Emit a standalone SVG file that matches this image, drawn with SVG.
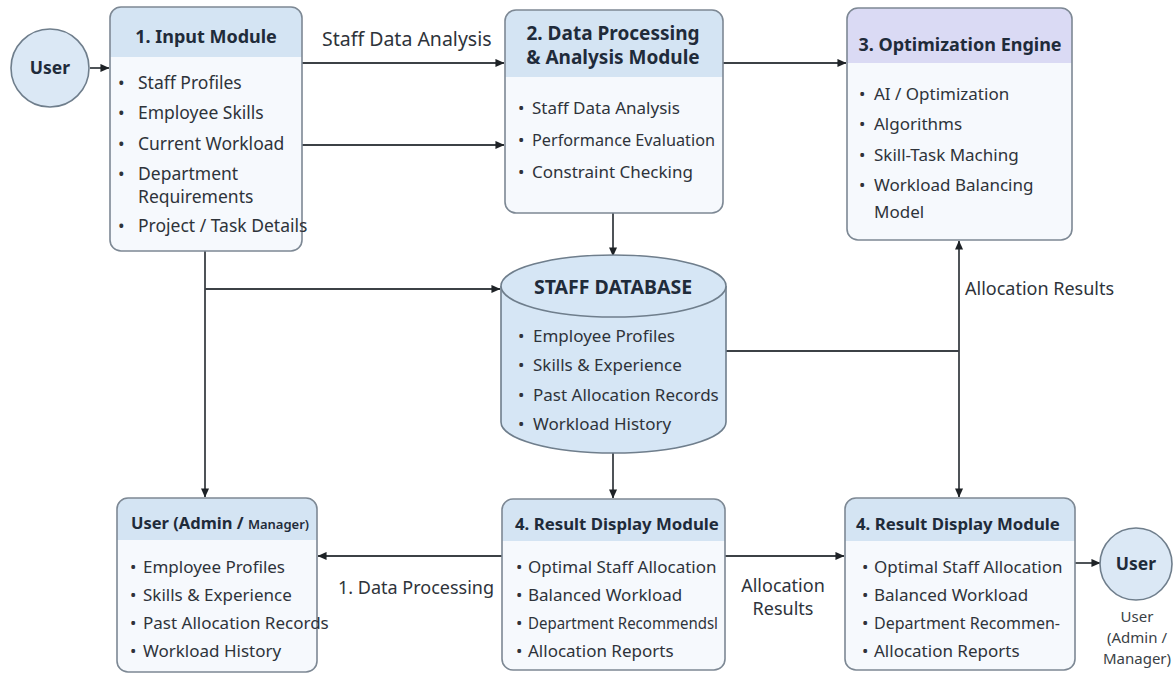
<svg xmlns="http://www.w3.org/2000/svg" width="1176" height="674" viewBox="0 0 1176 674">
  <defs>
    <marker id="arrow" viewBox="0 0 10 10" refX="9.5" refY="5" markerWidth="10" markerHeight="9" markerUnits="userSpaceOnUse" orient="auto">
      <path d="M0,0.5 L10,5 L0,9.5 z" fill="#1e2226"/>
    </marker>
    <clipPath id="c-input"><rect x="110" y="7" width="192" height="244" rx="11"/></clipPath>
    <clipPath id="c-proc"><rect x="505" y="10" width="218" height="203" rx="11"/></clipPath>
    <clipPath id="c-opt"><rect x="847" y="8" width="225" height="232" rx="11"/></clipPath>
    <clipPath id="c-admin"><rect x="117" y="498" width="200" height="174" rx="11"/></clipPath>
    <clipPath id="c-res1"><rect x="502" y="499" width="223" height="171" rx="11"/></clipPath>
    <clipPath id="c-res2"><rect x="845" y="498" width="230" height="172" rx="11"/></clipPath>
  </defs>
  <style>
    text { font-family: "Noto Sans", "Open Sans", "Liberation Sans", sans-serif; }
    .body { fill: #f6f9fd; }
    .head { fill: #d4e4f3; }
    .head-opt { fill: #dadaf4; }
    .frame { fill: none; stroke: #7d8894; stroke-width: 1.6; }
    .title { font-size: 18px; font-weight: 700; fill: #1f2b3a; }
    .title-lg { font-size: 19px; }
    .title-sm { font-size: 16.8px; }
    .item { font-size: 17px; fill: #2e333a; }
    .label { font-size: 18px; fill: #2e333a; }
    .caption { font-size: 15px; fill: #3a3f46; }
    .circle { fill: #dbe8f5; stroke: #6f7e8c; stroke-width: 1.6; }
    .db { fill: #d6e6f5; stroke: #6f7e8c; stroke-width: 1.6; }
    .link { fill: none; stroke: #3c4146; stroke-width: 1.8; }
    .arrow { marker-end: url(#arrow); }
  </style>

  <rect width="1176" height="674" fill="#ffffff"/>

  <!-- connectors -->
  <g id="connectors">
    <path class="link arrow" d="M90,68 H109"/>
    <path class="link arrow" d="M302,63 H504"/>
    <path class="link arrow" d="M302,145 H504"/>
    <path class="link arrow" d="M723,63 H846"/>
    <path class="link arrow" d="M613,213 V256"/>
    <path class="link arrow" d="M205,251 V497"/>
    <path class="link arrow" d="M205,289 H500"/>
    <path class="link arrow" d="M613,453 V498"/>
    <path class="link" d="M726,351 H959"/>
    <path class="link arrow" d="M959,351 V241"/>
    <path class="link arrow" d="M959,351 V497"/>
    <path class="link arrow" d="M502,556 H318"/>
    <path class="link arrow" d="M725,556 H844"/>
    <path class="link arrow" d="M1075,563 H1100"/>
    <text class="label" x="322" y="46" style="font-size:19.5px">Staff Data Analysis</text>
    <text class="label" x="965" y="295">Allocation Results</text>
    <text class="label" x="416" y="594" text-anchor="middle">1. Data Processing</text>
    <text class="label" x="783" y="592" text-anchor="middle">Allocation</text>
    <text class="label" x="783" y="615" text-anchor="middle">Results</text>
  </g>

  <!-- user (entry) -->
  <g id="user-in">
    <circle class="circle" cx="50" cy="68" r="39"/>
    <text x="50" y="74" text-anchor="middle" font-size="17.5" font-weight="700" fill="#1f2b3a">User</text>
  </g>

  <!-- 1. Input Module -->
  <g id="input-module">
    <g clip-path="url(#c-input)">
      <rect class="body" x="110" y="7" width="192" height="244"/>
      <rect class="head" x="110" y="7" width="192" height="50"/>
    </g>
    <rect class="frame" x="110" y="7" width="192" height="244" rx="11"/>
    <text class="title" x="206" y="43" text-anchor="middle">1. Input Module</text>
    <g class="item" style="font-size:17.5px">
      <text x="118" y="89">•</text><text x="138" y="89">Staff Profiles</text>
      <text x="118" y="119">•</text><text x="138" y="119">Employee Skills</text>
      <text x="118" y="150">•</text><text x="138" y="150">Current Workload</text>
      <text x="118" y="180">•</text><text x="138" y="180">Department</text>
      <text x="138" y="203">Requirements</text>
      <text x="118" y="232">•</text><text x="138" y="232">Project / Task Details</text>
    </g>
  </g>

  <!-- 2. Data Processing & Analysis Module -->
  <g id="processing-module">
    <g clip-path="url(#c-proc)">
      <rect class="body" x="505" y="10" width="218" height="203"/>
      <rect class="head" x="505" y="10" width="218" height="67"/>
    </g>
    <rect class="frame" x="505" y="10" width="218" height="203" rx="11"/>
    <text class="title title-lg" x="613" y="40" text-anchor="middle">2. Data Processing</text>
    <text class="title title-lg" x="613" y="64" text-anchor="middle">&amp; Analysis Module</text>
    <g class="item">
      <text x="518" y="114">•</text><text x="532" y="114">Staff Data Analysis</text>
      <text x="518" y="146">•</text><text x="532" y="146" textLength="183" lengthAdjust="spacingAndGlyphs">Performance Evaluation</text>
      <text x="518" y="178">•</text><text x="532" y="178">Constraint Checking</text>
    </g>
  </g>

  <!-- 3. Optimization Engine -->
  <g id="optimization-engine">
    <g clip-path="url(#c-opt)">
      <rect class="body" x="847" y="8" width="225" height="232"/>
      <rect class="head-opt" x="847" y="8" width="225" height="55"/>
    </g>
    <rect class="frame" x="847" y="8" width="225" height="232" rx="11"/>
    <text class="title" x="960" y="51" text-anchor="middle">3. Optimization Engine</text>
    <g class="item">
      <text x="859" y="100">•</text><text x="874" y="100">AI / Optimization</text>
      <text x="859" y="130">•</text><text x="874" y="130">Algorithms</text>
      <text x="859" y="161">•</text><text x="874" y="161">Skill-Task Maching</text>
      <text x="859" y="191">•</text><text x="874" y="191">Workload Balancing</text>
      <text x="874" y="218">Model</text>
    </g>
  </g>

  <!-- staff database -->
  <g id="staff-database">
    <path class="db" d="M501,286 V422 A112.5,31 0 0 0 726,422 V286"/>
    <ellipse class="db" cx="613.5" cy="286" rx="112.5" ry="31"/>
    <text class="title" x="613" y="294" text-anchor="middle" style="font-size:19.5px">STAFF DATABASE</text>
    <g class="item">
      <text x="518" y="342">•</text><text x="533" y="342">Employee Profiles</text>
      <text x="518" y="371">•</text><text x="533" y="371">Skills &amp; Experience</text>
      <text x="518" y="401">•</text><text x="533" y="401">Past Allocation Records</text>
      <text x="518" y="430">•</text><text x="533" y="430">Workload History</text>
    </g>
  </g>

  <!-- User (Admin / Manager) -->
  <g id="user-admin">
    <g clip-path="url(#c-admin)">
      <rect class="body" x="117" y="498" width="200" height="174"/>
      <rect class="head" x="117" y="498" width="200" height="42"/>
    </g>
    <rect class="frame" x="117" y="498" width="200" height="174" rx="11"/>
    <text class="title" x="131" y="529" style="font-size:16.5px">User (Admin / <tspan style="font-size:13px;font-weight:600">Manager)</tspan></text>
    <g class="item">
      <text x="130" y="573">•</text><text x="143" y="573">Employee Profiles</text>
      <text x="130" y="601">•</text><text x="143" y="601">Skills &amp; Experience</text>
      <text x="130" y="629">•</text><text x="143" y="629">Past Allocation Records</text>
      <text x="130" y="657">•</text><text x="143" y="657">Workload History</text>
    </g>
  </g>

  <!-- 4. Result Display Module (centre) -->
  <g id="result-display-1">
    <g clip-path="url(#c-res1)">
      <rect class="body" x="502" y="499" width="223" height="171"/>
      <rect class="head" x="502" y="499" width="223" height="42"/>
    </g>
    <rect class="frame" x="502" y="499" width="223" height="171" rx="11"/>
    <text class="title title-sm" x="515" y="530">4. Result Display Module</text>
    <g class="item">
      <text x="516" y="573">•</text><text x="528" y="573">Optimal Staff Allocation</text>
      <text x="516" y="601">•</text><text x="528" y="601">Balanced Workload</text>
      <text x="516" y="629">•</text><text x="528" y="629" font-size="16.5" textLength="190" lengthAdjust="spacingAndGlyphs">Department Recommendsl</text>
      <text x="516" y="657">•</text><text x="528" y="657">Allocation Reports</text>
    </g>
  </g>

  <!-- 4. Result Display Module (right) -->
  <g id="result-display-2">
    <g clip-path="url(#c-res2)">
      <rect class="body" x="845" y="498" width="230" height="172"/>
      <rect class="head" x="845" y="498" width="230" height="43"/>
    </g>
    <rect class="frame" x="845" y="498" width="230" height="172" rx="11"/>
    <text class="title title-sm" x="856" y="530">4. Result Display Module</text>
    <g class="item">
      <text x="862" y="573">•</text><text x="874" y="573">Optimal Staff Allocation</text>
      <text x="862" y="601">•</text><text x="874" y="601">Balanced Workload</text>
      <text x="862" y="629">•</text><text x="874" y="629" textLength="186" lengthAdjust="spacingAndGlyphs">Department Recommen-</text>
      <text x="862" y="657">•</text><text x="874" y="657">Allocation Reports</text>
    </g>
  </g>

  <!-- user (exit) -->
  <g id="user-out">
    <circle class="circle" cx="1136" cy="564" r="36"/>
    <text x="1136" y="570" text-anchor="middle" font-size="17.5" font-weight="700" fill="#1f2b3a">User</text>
    <text class="caption" x="1137" y="622" text-anchor="middle">User</text>
    <text class="caption" x="1137" y="643" text-anchor="middle">(Admin /</text>
    <text class="caption" x="1137" y="664" text-anchor="middle">Manager)</text>
  </g>
</svg>
